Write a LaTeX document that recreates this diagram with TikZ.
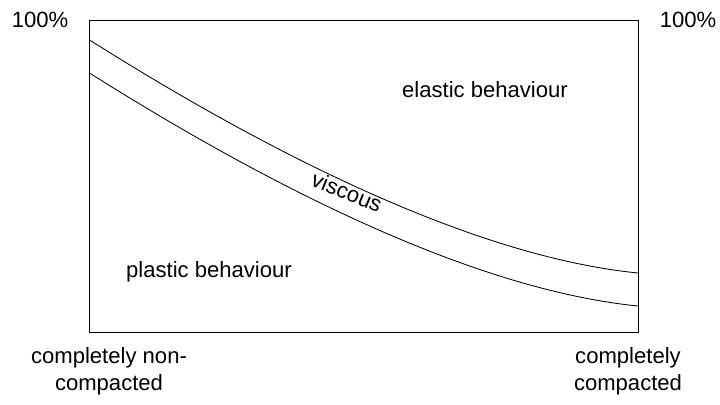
\documentclass[tikz,border=0pt]{standalone}
\usepackage{fontspec}
\setmainfont{Liberation Sans}
\usepackage{tikz}
\usetikzlibrary{positioning,calc}

\begin{document}
\begin{tikzpicture}[x=0.025cm, y=-0.025cm,
    lbl/.style={font=\fontsize{15.7}{19}\selectfont, align=center, inner sep=0pt},
    frame/.style={draw, line width=0.7pt},
    border/.style={draw, line width=0.6pt}
]
    \useasboundingbox (0,0) rectangle (720,404);
    % diagram frame
    \coordinate (tl) at (89.5,20);
    \coordinate (br) at (638,332);
    \draw[frame] (tl) rectangle (br);
    % region borders
    \coordinate (ua) at (89.5,40);
    \coordinate (ub) at (638,273);
    \coordinate (la) at (89.5,73);
    \coordinate (lb) at (638,306);
    \draw[border] (ua) .. controls ($(ua)+(150,94.5)$) and ($(ub)+(-180,-18)$) .. (ub);
    \draw[border] (la) .. controls ($(la)+(150,94.5)$) and ($(lb)+(-180,-18)$) .. (lb);
    % labels
    \node[lbl] (topl) at (40,20) {100\%};
    \node[lbl] (topr) at (688,20) {100\%};
    \node[lbl] (elastic) at (485,90) {elastic behaviour};
    \node[lbl] (plastic) at (209,272) {plastic behaviour};
    \node[lbl, rotate=-22] (viscous) at (347,192) {viscous};
    \node[lbl] (noncomp) at (109,371) {completely non-\\compacted};
    \node[lbl] (comp) at (628,371) {completely\\compacted};
\end{tikzpicture}
\end{document}
